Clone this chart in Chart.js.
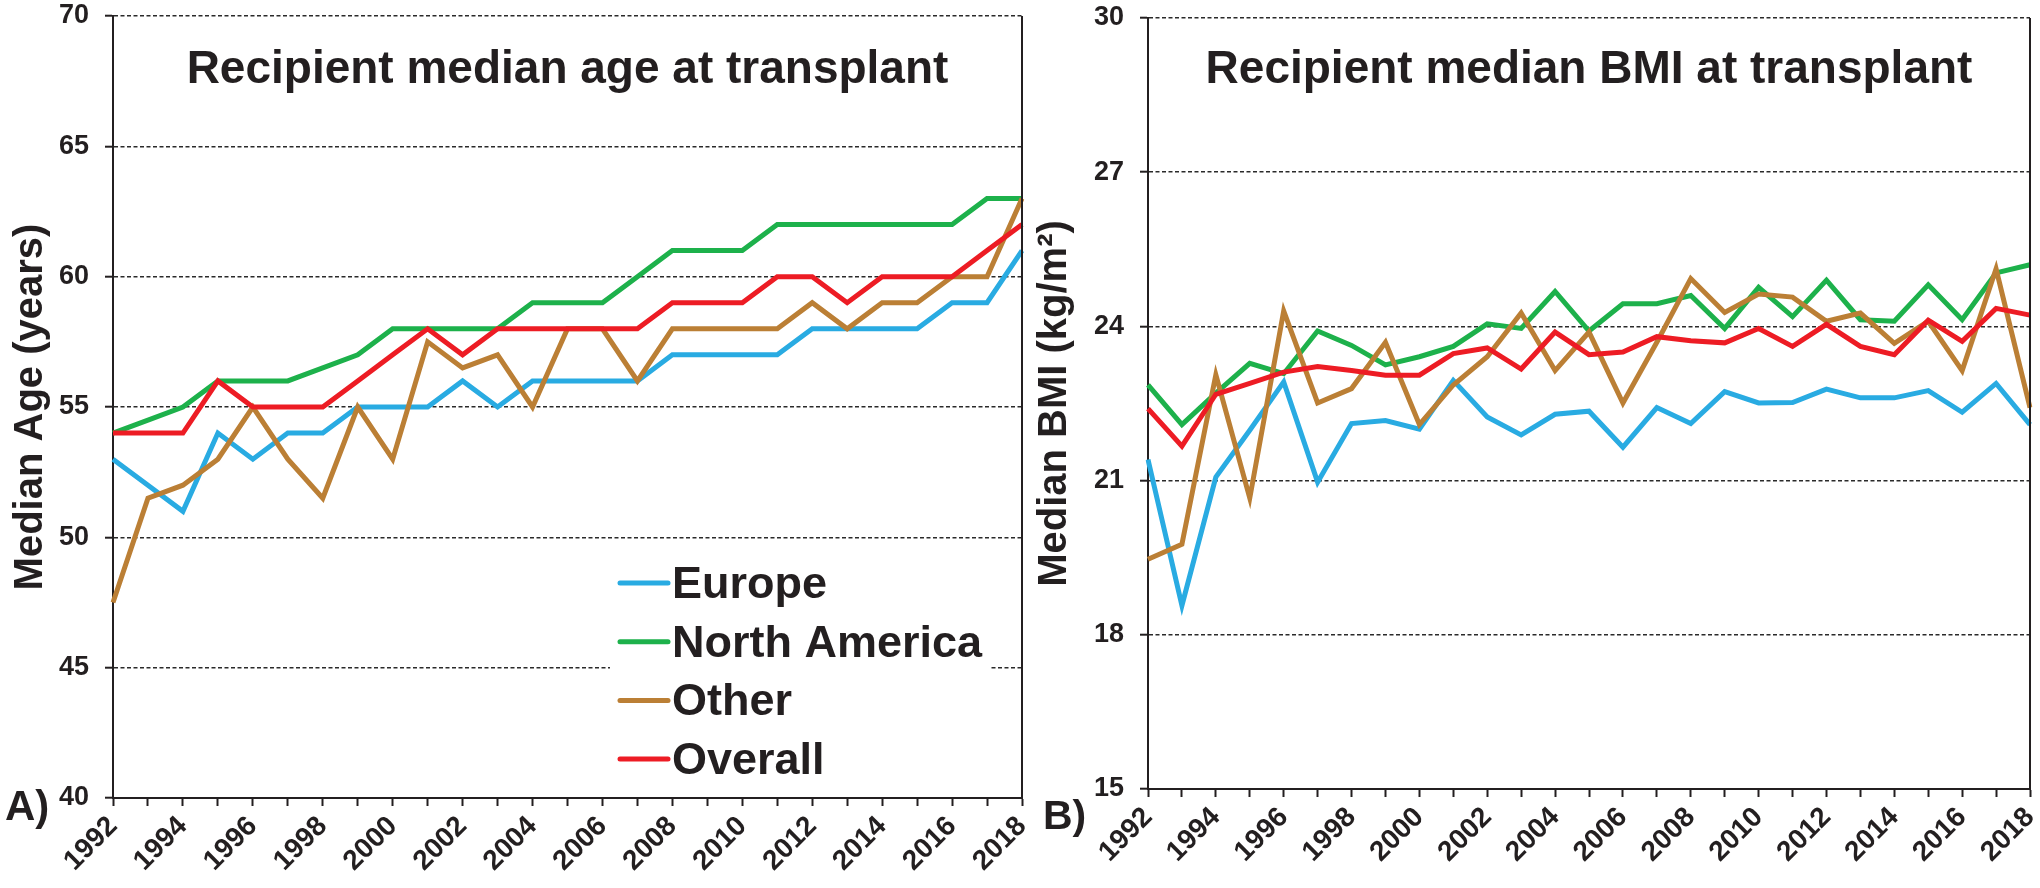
<!DOCTYPE html>
<html>
<head>
<meta charset="utf-8">
<script src="https://cdn.jsdelivr.net/npm/chart.js@4.4.1/dist/chart.umd.min.js"></script>
<style>
  html, body { margin: 0; padding: 0; background: #fff; }
  #wrap { position: relative; width: 2040px; height: 888px; }
  #ageChart { position: absolute; left: 0; top: 0; }
  #bmiChart { position: absolute; left: 1030px; top: 0; }
</style>
</head>
<body>
<div id="wrap">
  <canvas id="ageChart" width="1030" height="888"></canvas>
  <canvas id="bmiChart" width="1010" height="888"></canvas>
</div>
<script>
const years = ['1992', '1993', '1994', '1995', '1996', '1997', '1998', '1999', '2000', '2001',
  '2002', '2003', '2004', '2005', '2006', '2007', '2008', '2009', '2010', '2011',
  '2012', '2013', '2014', '2015', '2016', '2017', '2018'];

// panel A - median age (years)
const ageEurope = [53, 52, 51, 54, 53, 54, 54, 55, 55, 55, 56, 55, 56, 56, 56, 56, 57, 57, 57, 57, 58, 58, 58, 58, 59, 59, 61];
const ageNorthAmerica = [54, 54.5, 55, 56, 56, 56, 56.5, 57, 58, 58, 58, 58, 59, 59, 59, 60, 61, 61, 61, 62, 62, 62, 62, 62, 62, 63, 63];
const ageOther = [47.5, 51.5, 52, 53, 55, 53, 51.5, 55, 53, 57.5, 56.5, 57, 55, 58, 58, 56, 58, 58, 58, 58, 59, 58, 59, 59, 60, 60, 63];
const ageOverall = [54, 54, 54, 56, 55, 55, 55, 56, 57, 58, 57, 58, 58, 58, 58, 58, 59, 59, 59, 60, 60, 59, 60, 60, 60, 61, 62];

// panel B - median BMI (kg/m2)
const bmiEurope = [21.41, 18.57, 21.07, 21.98, 22.92, 20.97, 22.11, 22.17, 22.0, 22.95, 22.24, 21.89, 22.29, 22.35, 21.65, 22.42, 22.11, 22.73, 22.51, 22.52, 22.78, 22.61, 22.61, 22.75, 22.33, 22.89, 22.09];
const bmiNorthAmerica = [22.86, 22.09, 22.7, 23.28, 23.08, 23.91, 23.63, 23.25, 23.41, 23.61, 24.05, 23.96, 24.68, 23.91, 24.44, 24.44, 24.6, 23.96, 24.76, 24.19, 24.9, 24.13, 24.1, 24.81, 24.13, 25.04, 25.2];
const bmiOther = [19.47, 19.76, 23.06, 20.66, 24.3, 22.51, 22.79, 23.69, 22.09, 22.86, 23.41, 24.26, 23.14, 23.89, 22.51, 23.69, 24.93, 24.27, 24.63, 24.57, 24.1, 24.26, 23.67, 24.1, 23.14, 25.12, 22.42];
const bmiOverall = [22.4, 21.67, 22.68, 22.89, 23.11, 23.22, 23.14, 23.05, 23.05, 23.47, 23.58, 23.17, 23.89, 23.45, 23.5, 23.8, 23.72, 23.68, 23.96, 23.61, 24.04, 23.61, 23.45, 24.12, 23.71, 24.35, 24.22];

const regionNames = ['Europe', 'North America', 'Other', 'Overall'];
const regionColors = ['#29abe2', '#1db14b', '#bb7f35', '#ed1c24'];
const ink = '#231f20';
const fontFamily = '"Liberation Sans", Arial, Helvetica, sans-serif';

Chart.defaults.font.family = fontFamily;
Chart.defaults.font.weight = 'bold';
Chart.defaults.color = ink;

function makeDatasets(seriesList) {
  // overall drawn on top, europe at the bottom (lower order = drawn later)
  const drawOrder = [3, 2, 1, 0];
  return seriesList.map((vals, i) => ({
    label: regionNames[i],
    data: vals,
    borderColor: regionColors[i],
    backgroundColor: regionColors[i],
    borderWidth: 5,
    pointRadius: 0,
    tension: 0,
    fill: false,
    order: drawOrder[i]
  }));
}

// title, panel letter, right frame and inset legend
const panelDecor = {
  id: 'panelDecor',
  afterDraw(chart, args, opts) {
    const { ctx, chartArea: a } = chart;
    ctx.save();
    ctx.strokeStyle = ink;
    ctx.lineWidth = 2;
    ctx.setLineDash([]);
    ctx.beginPath();
    ctx.moveTo(a.right, a.top);
    ctx.lineTo(a.right, a.bottom);
    ctx.stroke();

    ctx.fillStyle = ink;
    ctx.textBaseline = 'alphabetic';
    ctx.font = 'bold 46px ' + fontFamily;
    ctx.textAlign = 'center';
    ctx.fillText(opts.title, (a.left + a.right) / 2, opts.titleY);

    ctx.font = 'bold ' + opts.letterSize + 'px ' + fontFamily;
    ctx.textAlign = 'left';
    ctx.fillText(opts.letter, opts.letterX, opts.letterY);

    if (opts.legend) {
      const lg = opts.legend;
      ctx.fillStyle = '#ffffff';
      ctx.fillRect(lg.boxLeft, lg.boxTop, lg.boxRight - lg.boxLeft, lg.boxBottom - lg.boxTop);
      ctx.font = 'bold 45px ' + fontFamily;
      ctx.lineCap = 'round';
      ctx.lineWidth = 5;
      chart.data.datasets.forEach((ds, i) => {
        const base = lg.firstBaseline + i * lg.rowGap;
        ctx.strokeStyle = ds.borderColor;
        ctx.beginPath();
        ctx.moveTo(lg.lineLeft, base - 15);
        ctx.lineTo(lg.lineRight, base - 15);
        ctx.stroke();
        ctx.fillStyle = ink;
        ctx.fillText(ds.label, lg.textLeft, base);
      });
    }
    ctx.restore();
  }
};

function makeOptions(cfg) {
  return {
    responsive: false,
    animation: false,
    layout: { padding: { left: 0, top: cfg.padTop, right: cfg.padRight, bottom: 0 } },
    plugins: {
      legend: { display: false },
      tooltip: { enabled: false },
      panelDecor: cfg.decor
    },
    scales: {
      x: {
        type: 'category',
        offset: false,
        afterFit: (scale) => {
          scale.height = cfg.xHeight;
          scale.paddingLeft = 0;
          scale.paddingRight = 0;
        },
        grid: { display: true, drawOnChartArea: false, drawTicks: true, tickLength: 8, tickColor: ink, tickWidth: 2 },
        border: { display: true, color: ink, width: 2 },
        ticks: {
          autoSkip: false,
          maxRotation: 45,
          minRotation: 45,
          padding: 4,
          font: { size: 28, weight: 'bold' },
          color: ink,
          callback: function (val) {
            const lab = this.getLabelForValue(val);
            return Number(lab) % 2 === 0 ? lab : '';
          }
        }
      },
      y: {
        min: cfg.yMin,
        max: cfg.yMax,
        afterFit: (scale) => {
          scale.width = cfg.yWidth;
          scale.paddingTop = 0;
          scale.paddingBottom = 0;
        },
        grid: { color: '#2a2a2a', lineWidth: 1.4, drawTicks: true, tickLength: 8, tickColor: ink, tickWidth: 2 },
        border: { display: true, color: ink, width: 2, dash: [4, 2.5] },
        ticks: { stepSize: cfg.yStep, padding: 16, font: { size: 27, weight: 'bold' }, color: ink },
        title: {
          display: true,
          text: cfg.yTitle,
          font: { size: 40, weight: 'bold' },
          color: ink,
          padding: { top: cfg.yTitlePad, bottom: 0 }
        }
      }
    }
  };
}

new Chart(document.getElementById('ageChart'), {
  type: 'line',
  data: { labels: years, datasets: makeDatasets([ageEurope, ageNorthAmerica, ageOther, ageOverall]) },
  options: makeOptions({
    padTop: 16, padRight: 8, xHeight: 90, yWidth: 113,
    yMin: 40, yMax: 70, yStep: 5,
    yTitle: 'Median Age (years)', yTitlePad: 7,
    decor: {
      title: 'Recipient median age at transplant', titleY: 83,
      letter: 'A)', letterX: 5, letterY: 820, letterSize: 42,
      legend: {
        boxLeft: 610, boxRight: 990, boxTop: 550, boxBottom: 790,
        lineLeft: 620, lineRight: 668, textLeft: 672,
        firstBaseline: 598, rowGap: 58.7
      }
    }
  }),
  plugins: [panelDecor]
});

new Chart(document.getElementById('bmiChart'), {
  type: 'line',
  data: { labels: years, datasets: makeDatasets([bmiEurope, bmiNorthAmerica, bmiOther, bmiOverall]) },
  options: makeOptions({
    padTop: 18, padRight: 10, xHeight: 99, yWidth: 118,
    yMin: 15, yMax: 30, yStep: 3,
    yTitle: 'Median BMI (kg/m²)', yTitlePad: 1,
    decor: {
      title: 'Recipient median BMI at transplant', titleY: 83,
      letter: 'B)', letterX: 13, letterY: 829, letterSize: 41
    }
  }),
  plugins: [panelDecor]
});
</script>
</body>
</html>
